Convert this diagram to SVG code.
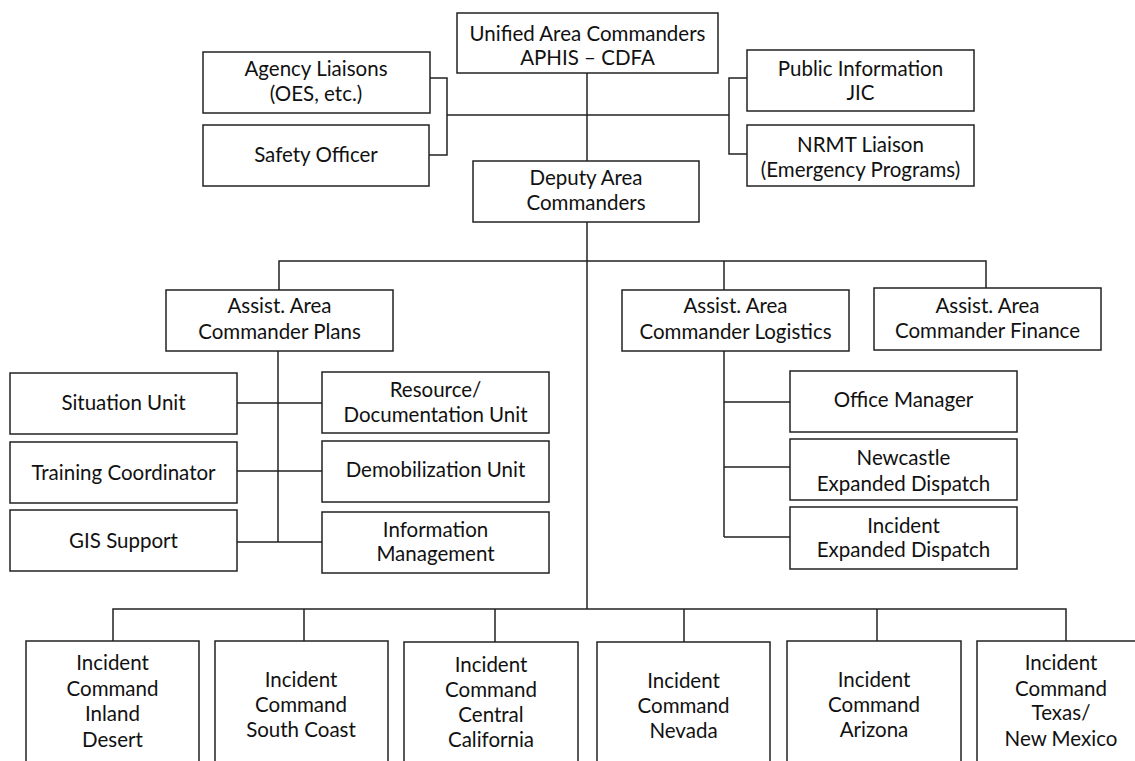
<svg xmlns="http://www.w3.org/2000/svg" width="1135" height="761" viewBox="0 0 1135 761">
<style>
.box{fill:#fff;stroke:#222;stroke-width:1.5}
.ln{fill:none;stroke:#222;stroke-width:1.5}
text{font-family:Lato,"Open Sans","Liberation Sans",sans-serif;font-size:20.5px;fill:#111;text-anchor:middle}
</style>
<rect width="1135" height="761" fill="#fff"/>
<g id="connectors" class="ln">
<path d="M587 73V609"/>
<path d="M447 115H729"/>
<path d="M430 78H447V155H429"/>
<path d="M747 78H729V154H747"/>
<path d="M279 290V261H986V288"/>
<path d="M724 261V290"/>
<path d="M278 351V542"/>
<path d="M237 403H322M237 471H322M237 542H322"/>
<path d="M724 351V537"/>
<path d="M724 402H790M724 467H790M724 537H790"/>
<path d="M113 641V609H1066V641"/>
<path d="M304 609V641M495 609V642M684 609V642M877 609V641"/>
</g>
<g id="unified"><rect class="box" x="457" y="13" width="261" height="60"/><text x="587.5" y="41">Unified Area Commanders</text><text x="587.5" y="65">APHIS – CDFA</text></g>
<g id="agency"><rect class="box" x="203" y="52" width="227" height="61"/><text x="316" y="76">Agency Liaisons</text><text x="316" y="101">(OES, etc.)</text></g>
<g id="safety"><rect class="box" x="203" y="125" width="226" height="61"/><text x="316" y="162">Safety Officer</text></g>
<g id="public"><rect class="box" x="747" y="50" width="227" height="61"/><text x="860.5" y="76">Public Information</text><text x="860.5" y="100">JIC</text></g>
<g id="nrmt"><rect class="box" x="747" y="125" width="227" height="61"/><text x="860.5" y="152">NRMT Liaison</text><text x="860.5" y="177">(Emergency Programs)</text></g>
<g id="deputy"><rect class="box" x="473" y="161" width="226" height="61"/><text x="586" y="185">Deputy Area</text><text x="586" y="210">Commanders</text></g>
<g id="plans"><rect class="box" x="166" y="290" width="227" height="61"/><text x="279.5" y="313">Assist. Area</text><text x="279.5" y="339">Commander Plans</text></g>
<g id="logistics"><rect class="box" x="622" y="290" width="227" height="61"/><text x="735.5" y="313">Assist. Area</text><text x="735.5" y="339">Commander Logistics</text></g>
<g id="finance"><rect class="box" x="874" y="288" width="227" height="62"/><text x="987.5" y="313">Assist. Area</text><text x="987.5" y="338">Commander Finance</text></g>
<g id="situation"><rect class="box" x="10" y="373" width="227" height="61"/><text x="123.5" y="410">Situation Unit</text></g>
<g id="training"><rect class="box" x="10" y="442" width="227" height="61"/><text x="123.5" y="480">Training Coordinator</text></g>
<g id="gis"><rect class="box" x="10" y="510" width="227" height="61"/><text x="123.5" y="548">GIS Support</text></g>
<g id="resource"><rect class="box" x="322" y="372" width="227" height="61"/><text x="435.5" y="397">Resource/</text><text x="435.5" y="422">Documentation Unit</text></g>
<g id="demob"><rect class="box" x="322" y="441" width="227" height="61"/><text x="435.5" y="477">Demobilization Unit</text></g>
<g id="infomgmt"><rect class="box" x="322" y="512" width="227" height="61"/><text x="435.5" y="537">Information</text><text x="435.5" y="561">Management</text></g>
<g id="office"><rect class="box" x="790" y="371" width="227" height="61"/><text x="903.5" y="407">Office Manager</text></g>
<g id="newcastle"><rect class="box" x="790" y="439" width="227" height="61"/><text x="903.5" y="465">Newcastle</text><text x="903.5" y="491">Expanded Dispatch</text></g>
<g id="incidentdispatch"><rect class="box" x="790" y="507" width="227" height="62"/><text x="903.5" y="533">Incident</text><text x="903.5" y="557">Expanded Dispatch</text></g>
<g id="ic-inland"><rect class="box" x="26" y="641" width="173" height="130"/><text x="112.5" y="670">Incident</text><text x="112.5" y="696">Command</text><text x="112.5" y="721">Inland</text><text x="112.5" y="747">Desert</text></g>
<g id="ic-south"><rect class="box" x="215" y="641" width="173" height="130"/><text x="301" y="687">Incident</text><text x="301" y="712">Command</text><text x="301" y="737">South Coast</text></g>
<g id="ic-central"><rect class="box" x="404" y="642" width="174" height="130"/><text x="491" y="672">Incident</text><text x="491" y="697">Command</text><text x="491" y="722">Central</text><text x="491" y="747">California</text></g>
<g id="ic-nevada"><rect class="box" x="597" y="642" width="173" height="130"/><text x="683.5" y="688">Incident</text><text x="683.5" y="713">Command</text><text x="683.5" y="738">Nevada</text></g>
<g id="ic-arizona"><rect class="box" x="787" y="641" width="174" height="130"/><text x="874" y="687">Incident</text><text x="874" y="712">Command</text><text x="874" y="737">Arizona</text></g>
<g id="ic-texas"><rect class="box" x="977" y="641" width="180" height="130"/><text x="1061" y="670">Incident</text><text x="1061" y="696">Command</text><text x="1061" y="720">Texas/</text><text x="1061" y="746">New Mexico</text></g>
</svg>
